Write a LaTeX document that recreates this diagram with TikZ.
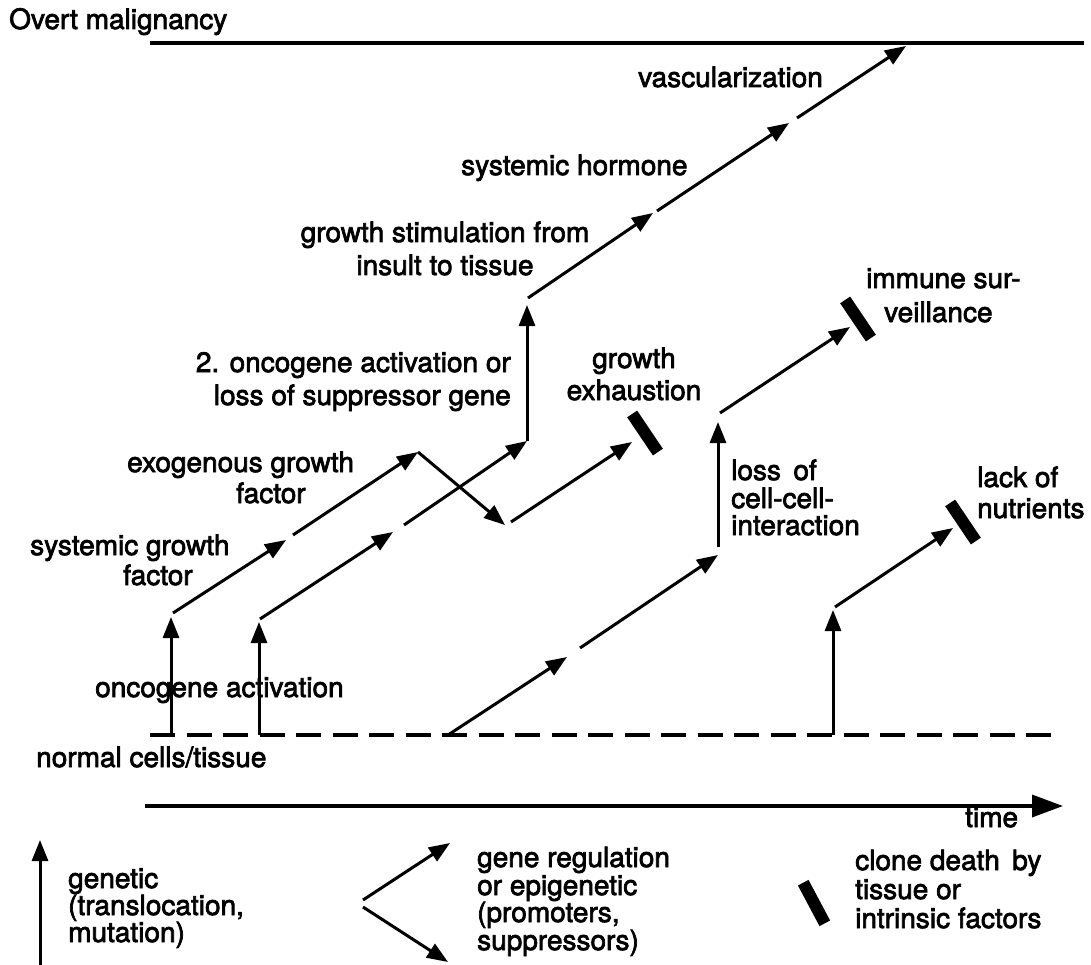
\documentclass[tikz,border=0pt]{standalone}
\usepackage{fontspec}
\setmainfont{TeX Gyre Heros}[FakeBold=2.5]
\usetikzlibrary{arrows.meta}
\begin{document}
\begin{tikzpicture}[x=1pt,y=-1pt,
  every node/.style={font=\fontsize{28}{33}\selectfont, inner sep=0pt},
  lab/.style={anchor=base west},
  labc/.style={anchor=base},
  labe/.style={anchor=base east},
  arr/.style={line width=3pt, -{Triangle[length=21pt,width=16pt]}},
  deathbar/.style={fill=black, minimum width=46pt, minimum height=12pt, inner sep=0pt, rotate=-56}
]
\useasboundingbox (0,0) rectangle (1091,965);

% ---------- coordinates ----------
\coordinate (T0) at (150,43);  \coordinate (T1) at (1084,43);
\coordinate (D0) at (150,735); \coordinate (D1) at (1059,735);
\coordinate (A0) at (145,806); \coordinate (A1) at (1063,806);

% chain 1
\coordinate (c1a) at (171,735); \coordinate (c1b) at (171,617);
\coordinate (c1c) at (173,613); \coordinate (c1d) at (286,540);
\coordinate (c1e) at (293,535); \coordinate (c1f) at (418,452);
\coordinate (c1g) at (505,525);
\coordinate (c1h) at (511,522); \coordinate (c1i) at (632,442);
% chain 2
\coordinate (c2a) at (259,735); \coordinate (c2b) at (259,622);
\coordinate (c2c) at (260,619); \coordinate (c2d) at (393,532);
\coordinate (c2e) at (404,525); \coordinate (c2f) at (527,441);
\coordinate (c2g) at (527,305);
\coordinate (c2h) at (528,298); \coordinate (c2i) at (653,213);
\coordinate (c2j) at (657,211); \coordinate (c2k) at (789,123);
\coordinate (c2l) at (797,118); \coordinate (c2m) at (906,46);
% chain 3
\coordinate (c3a) at (448,735); \coordinate (c3b) at (567,657);
\coordinate (c3c) at (580,648); \coordinate (c3d) at (718,555);
\coordinate (c3e) at (718,547); \coordinate (c3f) at (718,422);
\coordinate (c3g) at (720,413); \coordinate (c3h) at (850,327);
% chain 4
\coordinate (c4a) at (833,735); \coordinate (c4b) at (833,610);
\coordinate (c4c) at (835,607); \coordinate (c4d) at (953,528);
% legend
\coordinate (g0) at (40,965);  \coordinate (g1) at (40,840);
\coordinate (e0) at (363,900); \coordinate (e1) at (450,843);
\coordinate (e2) at (363,907); \coordinate (e3) at (448,962);

% ---------- levels ----------
\draw[line width=4pt] (T0) -- (T1);
\draw[line width=4pt, dash pattern=on 25pt off 11.5pt] (D0) -- (D1);
\draw[line width=3.5pt, -{Triangle[length=31pt,width=22pt]}] (A0) -- (A1);

% ---------- death bars ----------
\node[deathbar] (bar1) at (645,433) {};
\node[deathbar] (bar2) at (858,319) {};
\node[deathbar] (bar3) at (963,522) {};
\node[deathbar, rotate=-6] (bar4) at (814,903) {};

% ---------- chains ----------
\draw[arr] (c1a) -- (c1b);
\draw[arr] (c1c) -- (c1d);
\draw[arr] (c1e) -- (c1f);
\draw[arr] (c1f) -- (c1g);
\draw[arr] (c1h) -- (c1i);

\draw[arr] (c2a) -- (c2b);
\draw[arr] (c2c) -- (c2d);
\draw[arr] (c2e) -- (c2f);
\draw[arr] (c2f) -- (c2g);
\draw[arr] (c2h) -- (c2i);
\draw[arr] (c2j) -- (c2k);
\draw[arr] (c2l) -- (c2m);

\draw[arr] (c3a) -- (c3b);
\draw[arr] (c3c) -- (c3d);
\draw[arr] (c3e) -- (c3f);
\draw[arr] (c3g) -- (c3h);

\draw[arr] (c4a) -- (c4b);
\draw[arr] (c4c) -- (c4d);

\draw[arr] (g0) -- (g1);
\draw[arr] (e0) -- (e1);
\draw[arr] (e2) -- (e3);

% ---------- labels ----------
\node[lab] (overt) at (9,29) {Overt malignancy};
\node[lab] (vasc) at (638,87) {vascularization};
\node[lab] (shorm) at (461,175) {systemic hormone};
\node[labc] (gs1) at (445,242) {growth stimulation from};
\node[labc] (gs2) at (445,275) {insult to tissue};
\node[lab] (imm1) at (866,288) {immune sur-};
\node[lab] (imm2) at (884,322) {veillance};
\node[labe] (onc1) at (511,372) {2. oncogene activation or};
\node[labe] (onc2) at (511,405) {loss of suppressor gene};
\node[labc] (ge1) at (634,368) {growth};
\node[labc] (ge2) at (634,400) {exhaustion};
\node[lab] (exo1) at (127,472) {exogenous growth};
\node[lab] (exo2) at (236,503) {factor};
\node[lab] (loss1) at (731,480) {loss\, of};
\node[lab] (loss2) at (731,508) {cell-cell-};
\node[lab] (loss3) at (731,535) {interaction};
\node[lab] (lack1) at (977,487) {lack of};
\node[lab] (lack2) at (977,518) {nutrients};
\node[lab] (sys1) at (30,555) {systemic growth};
\node[lab] (sys2) at (123,585) {factor};
\node[lab] (oncact) at (95,697) {oncogene activation};
\node[lab] (normal) at (36,767) {normal cells/tissue};
\node[lab] (time) at (965,827) {time};

\node[lab] (leg1a) at (68,888) {genetic};
\node[lab] (leg1b) at (68,915) {(translocation,};
\node[lab] (leg1c) at (68,942) {mutation)};
\node[lab] (leg2a) at (477,867) {gene regulation};
\node[lab] (leg2b) at (477,895) {or epigenetic};
\node[lab] (leg2c) at (477,922) {(promoters,};
\node[lab] (leg2d) at (477,950) {suppressors)};
\node[lab] (leg3a) at (855,870) {clone death\, by};
\node[lab] (leg3b) at (855,899) {tissue or};
\node[lab] (leg3c) at (855,928) {intrinsic factors};
\end{tikzpicture}
\end{document}
